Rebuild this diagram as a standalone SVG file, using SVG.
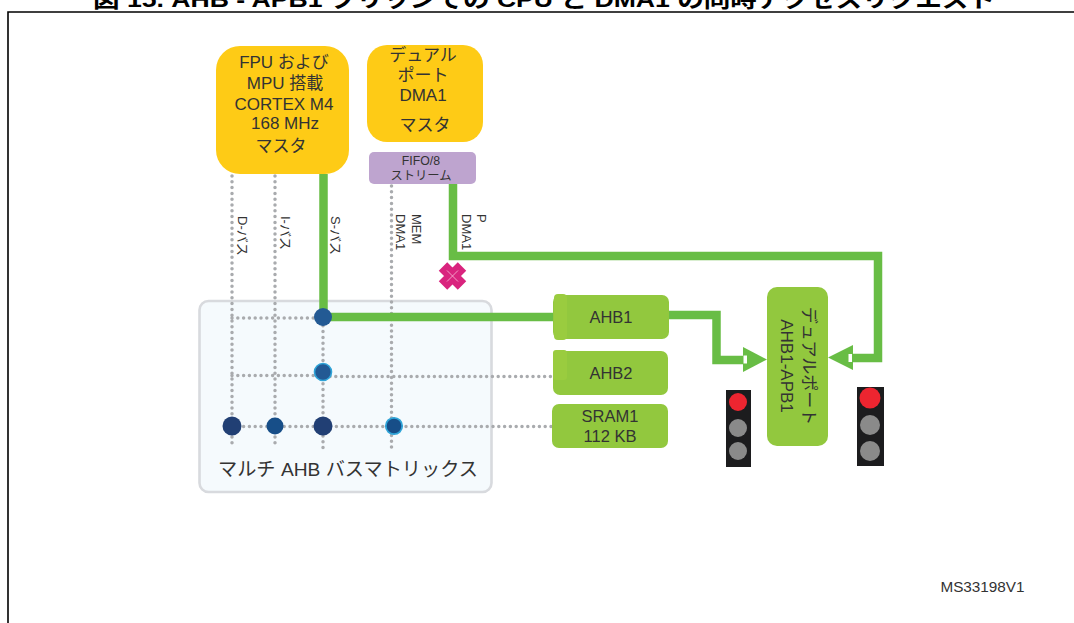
<svg xmlns="http://www.w3.org/2000/svg" width="1074" height="623" viewBox="0 0 1074 623">
<style>
text{font-family:"Liberation Sans","Noto Sans CJK JP",sans-serif;fill:#333;text-anchor:middle}
.t{font-size:17px}.s{font-size:12.300px}.n{font-size:16.500px}
.b text{font-size:13px;text-anchor:start}
.g{fill:none;stroke:#68bd45;stroke-width:8.500}
.d{fill:none;stroke:#a9abae;stroke-width:3.500;stroke-linecap:round;stroke-dasharray:0 5.800}
.y{fill:#fecb16}.l{fill:#92c83e}.r{fill:#ed2530}.o{fill:#8a8a8a}.k{fill:#1c1c1e}
</style>
<rect width="1074" height="623" fill="#fff"/>
<text x="544" y="6.500" font-size="22px" font-weight="700" textLength="902" lengthAdjust="spacingAndGlyphs" style="fill:#000">図 15. AHB - APB1 ブリッジでの CPU と DMA1 の同時アクセスリクエスト</text>
<path d="M8 623V12H1074" fill="none" stroke="#000" stroke-width="1.600"/>
<g id="matrix"><rect x="199.500" y="301" width="292" height="191" rx="9" fill="#f5fafd" stroke="#d8dade" stroke-width="2.600"/><text x="348" y="476" font-size="19.200px">マルチ AHB バスマトリックス</text></g>
<g id="connectors">
<path class="d" d="M232 176V448M275 176V447M323 320V450M391.500 186V452M232 318H323M232 375.500H323M330 376.500H552M232 426.500H552"/>
<path class="g" d="M323.500 174V317M323.500 317H554M668 315H716.500V360H745M453 184V256H878V358H845"/>
<path d="M767 359.500L743 347V372Z" fill="#68bd45"/><path d="M828 357.500L853 345V370Z" fill="#68bd45"/>
<path d="M743.500 355.500H747V363.500H743.500ZM848.500 354H852V362H848.500Z" fill="#fff"/>
</g>
<g id="cpu"><rect class="y" x="216" y="46" width="133" height="128" rx="24"/><g class="t"><text x="284" y="68">FPU および</text><text x="285" y="89">MPU 搭載</text><text x="284" y="110">CORTEX M4</text><text x="285" y="129">168 MHz</text><text x="281" y="152">マスタ</text></g></g>
<g id="dma"><rect class="y" x="367" y="45" width="116" height="97" rx="20"/><g class="t"><text x="423" y="61">デュアル</text><text x="423" y="81">ポート</text><text x="423" y="101">DMA1</text><text x="425" y="131">マスタ</text></g></g>
<g id="fifo"><rect x="369" y="152" width="107" height="32" rx="5" fill="#bea4cf"/><g class="s"><text x="421" y="165">FIFO/8</text><text x="421" y="180">ストリーム</text></g></g>
<g id="bus-labels" class="b">
<text transform="translate(238 216) rotate(90)">D-バス</text>
<text transform="translate(281 216) rotate(90)">I-バス</text>
<text transform="translate(331 216) rotate(90)">S-バス</text>
<text transform="translate(412 214) rotate(90)">MEM</text>
<text transform="translate(396 214) rotate(90)">DMA1</text>
<text transform="translate(477 214) rotate(90)">P</text>
<text transform="translate(462 214) rotate(90)">DMA1</text>
</g>
<g id="cross"><path d="M443 266.500L462 285.500M462 266.500L443 285.500" fill="none" stroke="#d9247e" stroke-width="12"/><path d="M447 270.500L458 281.500M458 270.500L447 281.500" stroke="#f7bcd8" stroke-width=".8"/></g>
<g id="n1"><circle cx="323" cy="317" r="9" fill="#235a94"/></g>
<g id="n2"><circle cx="323" cy="372" r="8.500" fill="#235a94" stroke="#2fa4d8" stroke-width="1.600"/></g>
<g id="n3"><circle cx="232" cy="426" r="9.500" fill="#213f74"/></g>
<g id="n4"><circle cx="275" cy="426" r="8.500" fill="#174e88"/></g>
<g id="n5"><circle cx="323" cy="426" r="9.500" fill="#213f74"/></g>
<g id="n6"><circle cx="394" cy="426" r="8.200" fill="#174e88" stroke="#2fa4d8" stroke-width="1.800"/></g>
<g id="ahb1"><rect class="l" x="553" y="295" width="116" height="44" rx="7"/><rect x="554" y="294" width="13" height="46" rx="4" fill="#9acc3f"/><text class="n" x="611" y="323">AHB1</text></g>
<g id="ahb2"><rect class="l" x="553" y="351" width="115" height="44" rx="7"/><rect x="553" y="350" width="14" height="30" rx="3" fill="#9acc3f"/><text class="n" x="611" y="379">AHB2</text></g>
<g id="sram"><rect class="l" x="552" y="404" width="116" height="44" rx="7"/><text class="n" x="610" y="422">SRAM1</text><text class="n" x="610" y="442">112 KB</text></g>
<g id="bridge"><rect class="l" x="767" y="287" width="61" height="159" rx="10"/><text font-size="17px" transform="translate(803 366) rotate(90)">デュアルポート</text><text font-size="17px" transform="translate(781 366) rotate(90)">AHB1-APB1</text></g>
<g id="light1"><rect class="k" x="726" y="390" width="25" height="77"/><circle class="r" cx="738" cy="402" r="9"/><circle class="o" cx="738" cy="428" r="9"/><circle class="o" cx="738" cy="451" r="9"/></g>
<g id="light2"><rect class="k" x="857" y="387" width="27" height="79"/><circle class="r" cx="870" cy="398" r="10.500"/><circle class="o" cx="870" cy="425" r="10"/><circle class="o" cx="870" cy="451" r="10"/></g>
<text x="982.500" y="592" font-size="15.300px">MS33198V1</text>
</svg>
